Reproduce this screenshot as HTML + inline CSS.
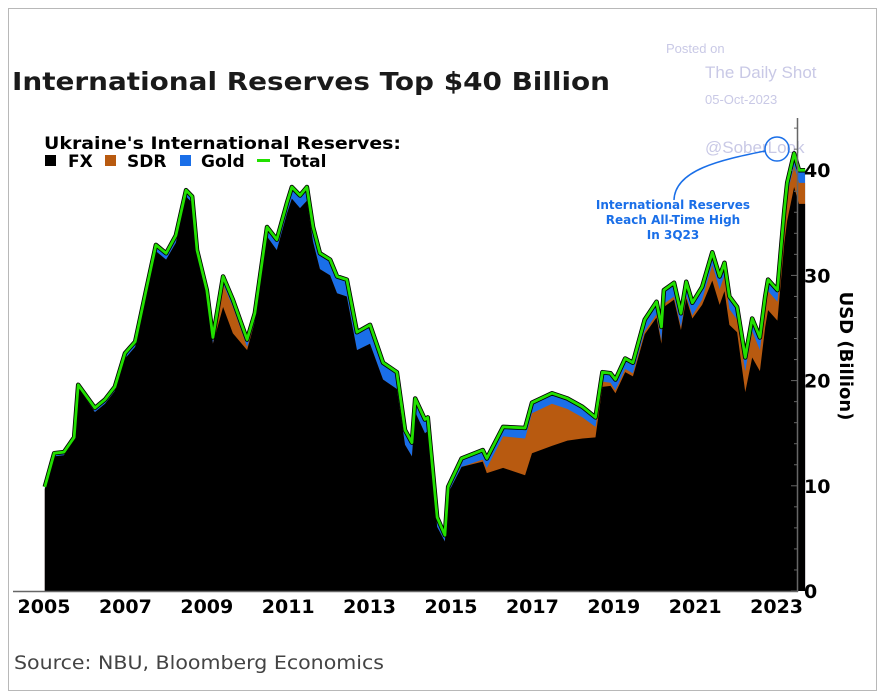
<!DOCTYPE html>
<html><head><meta charset="utf-8"><style>
html,body{margin:0;padding:0;background:#fff;}
svg{display:block;}
text{font-family:"DejaVu Sans","Liberation Sans",sans-serif;}
</style></head><body>
<svg id="chart" width="884" height="696" viewBox="0 0 884 696" xmlns="http://www.w3.org/2000/svg">
<rect x="8.5" y="8.5" width="868" height="682" fill="#fff" stroke="#b8b8b8" stroke-width="1"/>
<text x="12" y="90" font-size="25" font-weight="bold" fill="#1a1a1a" textLength="598" lengthAdjust="spacingAndGlyphs">International Reserves Top $40 Billion</text>
<text x="44" y="149" font-size="17" font-weight="bold" fill="#000" textLength="357" lengthAdjust="spacingAndGlyphs">Ukraine's International Reserves:</text>
<g>
<rect x="45" y="155" width="11" height="11" fill="#000"/>
<text x="68" y="167" font-size="17" font-weight="bold">FX</text>
<rect x="105" y="155" width="11" height="11" fill="#b85a10"/>
<text x="127" y="167" font-size="17" font-weight="bold">SDR</text>
<rect x="180" y="155" width="11" height="11" fill="#1a6fe8"/>
<text x="201" y="167" font-size="17" font-weight="bold">Gold</text>
<rect x="257" y="159" width="13" height="3" fill="#22e000"/>
<text x="280" y="167" font-size="17" font-weight="bold">Total</text>
</g>
<g fill="#c9c9e6">
<text x="666" y="53" font-size="13" style="font-family:'Liberation Sans',sans-serif">Posted on</text>
<text x="705" y="78" font-size="17" style="font-family:'Liberation Sans',sans-serif">The Daily Shot</text>
<text x="705" y="104" font-size="13" style="font-family:'Liberation Sans',sans-serif">05-Oct-2023</text>
<text x="705" y="153" font-size="17" style="font-family:'Liberation Sans',sans-serif">@SoberLook</text>
</g>
<g id="plot"></g>
<g id="axes"></g>
<g>
<circle cx="777" cy="149" r="12" fill="none" stroke="#1a6fe8" stroke-width="1.5"/>
<path d="M674,200 C675,170 720,160 765,151" fill="none" stroke="#1a6fe8" stroke-width="1.5"/>
<g font-size="12" font-weight="bold" fill="#1a6fe8" text-anchor="middle">
<text x="673" y="209">International Reserves</text>
<text x="673" y="224">Reach All-Time High</text>
<text x="673" y="239">In 3Q23</text>
</g>
</g>
<text x="14" y="669" font-size="19" fill="#444" textLength="370" lengthAdjust="spacingAndGlyphs">Source: NBU, Bloomberg Economics</text>
</svg>
<script>
const dates=[2005.02,2005.25,2005.49,2005.74,2005.84,2006.25,2006.50,2006.74,2006.99,2007.24,2007.51,2007.75,2008.00,2008.24,2008.49,2008.64,2008.76,2009.00,2009.15,2009.40,2009.64,2009.99,2010.18,2010.48,2010.72,2010.97,2011.09,2011.29,2011.46,2011.61,2011.78,2012.03,2012.20,2012.44,2012.69,2013.01,2013.33,2013.67,2013.87,2014.04,2014.12,2014.36,2014.43,2014.66,2014.85,2014.93,2015.26,2015.78,2015.88,2016.28,2016.82,2016.99,2017.48,2017.86,2018.23,2018.55,2018.72,2018.92,2019.04,2019.28,2019.47,2019.76,2020.05,2020.17,2020.23,2020.48,2020.65,2020.78,2020.93,2021.17,2021.42,2021.60,2021.72,2021.84,2022.03,2022.23,2022.40,2022.59,2022.72,2022.79,2023.02,2023.19,2023.26,2023.43,2023.55,2023.70];
const total=[9.9,13.1,13.2,14.6,19.6,17.4,18.2,19.4,22.6,23.7,28.6,32.9,32.1,33.8,38.1,37.5,32.4,28.6,24.1,29.9,27.7,23.9,26.4,34.6,33.4,36.9,38.4,37.6,38.4,34.6,32.1,31.5,29.9,29.6,24.6,25.3,21.7,20.8,15.3,14.1,18.3,16.3,16.5,7.0,5.3,9.9,12.6,13.4,12.6,15.6,15.5,17.9,18.8,18.3,17.5,16.5,20.8,20.7,20.1,22.1,21.7,25.8,27.5,25.1,28.6,29.3,26.4,29.4,27.4,28.9,32.2,29.9,31.2,28.0,27.0,22.2,25.9,24.1,28.0,29.6,28.6,36.2,38.8,41.6,40.0,40.0];
const gold=[0.2,0.3,0.3,0.3,0.3,0.4,0.4,0.4,0.5,0.5,0.5,0.6,0.6,0.7,0.6,0.6,0.6,0.6,0.6,0.7,0.7,0.7,0.8,0.9,1.0,1.0,1.1,1.2,1.3,1.4,1.5,1.5,1.6,1.6,1.7,1.8,1.6,1.6,1.4,1.3,1.3,1.3,1.3,0.9,0.6,0.6,0.8,0.9,0.9,0.9,1.0,1.0,1.0,1.0,1.0,0.9,0.9,0.9,1.0,1.0,1.0,1.1,1.2,1.3,1.3,1.3,1.3,1.3,1.2,1.2,1.2,1.2,1.2,1.2,1.2,1.3,1.2,1.2,1.1,1.1,1.1,1.1,1.1,1.2,1.2,1.2];
const sdr=[0,0,0,0,0,0,0,0,0,0,0,0,0,0,0,0,0,0,0,2.2,2.5,0.3,0,0,0,0,0,0,0,0,0,0,0,0,0,0,0,0,0,0,0,0,0,0,0,0,0,0.2,0.5,3.0,3.5,3.8,4.0,3.0,2.0,1.0,0.5,0.3,0.3,0.3,0.3,0.3,0.3,0.3,0.3,0.3,0.3,0.3,0.3,0.5,1.5,1.5,1.5,1.5,1.2,2.0,2.5,2.0,1.8,1.8,1.8,2.0,2.5,2.0,2.0,2.0];
const yTicks=[0,10,20,30,40];
const xYears=[2005,2007,2009,2011,2013,2015,2017,2019,2021,2023];

const NS='http://www.w3.org/2000/svg';
const X0=44,X1=2005,PXY=40.7,Y0=591,PXV=10.52;
function xs(t){return X0+(t-X1)*PXY;}
function ys(v){return Y0-v*PXV;}
function mk(tag,attrs,parent){const e=document.createElementNS(NS,tag);for(const k in attrs)e.setAttribute(k,attrs[k]);parent.appendChild(e);return e;}
const plot=document.getElementById('plot'),axes=document.getElementById('axes');
function area(vals){
  let d='M'+xs(dates[0])+','+ys(0);
  for(let i=0;i<dates.length;i++){d+=' L'+xs(dates[i])+','+ys(vals[i]);}
  d+=' L'+xs(dates[dates.length-1])+','+ys(0)+' Z';return d;
}
const goldTop=total.slice();
const sdrTop=total.map((v,i)=>v-gold[i]);
const fxTop=total.map((v,i)=>v-gold[i]-sdr[i]);
const a1=mk('path',{d:area(goldTop),fill:'#1a6fe8'},plot);


const a2=mk('path',{d:area(sdrTop),fill:'#b85a10'},plot);


const a3=mk('path',{d:area(fxTop),fill:'#000'},plot);


let ld='';
for(let i=0;i<dates.length;i++){ld+=(i?' L':'M')+xs(dates[i])+','+ys(total[i]);}
const tl=mk('path',{d:ld,fill:'none',stroke:'#000',"stroke-width":4.5,"stroke-linejoin":'round'},plot);


const ln=mk('path',{d:ld,fill:'none',stroke:'#22e000',"stroke-width":2.8,"stroke-linejoin":'round'},plot);


const bl=mk('line',{x1:13,y1:Y0+0.5,x2:798,y2:Y0+0.5,stroke:'#666',"stroke-width":1.5},axes);


const ra=mk('line',{x1:797.5,y1:118,x2:797.5,y2:Y0+1,stroke:'#666',"stroke-width":1.5},axes);


for(let v=0;v<=44;v+=2){
  const t=mk('line',{x1:797,x2:v%10===0?791:794,y1:ys(v),y2:ys(v),stroke:'#666',"stroke-width":1},axes);
  
  
}
yTicks.forEach(v=>{
  const t=mk('text',{x:804,y:ys(v)+7,"font-size":19,"font-weight":'bold',fill:'#000'},axes);
  t.textContent=String(v);
  
  
});
xYears.forEach(yr=>{
  const t=mk('text',{x:xs(yr),y:613,"font-size":19,"font-weight":'bold',fill:'#000',"text-anchor":'middle'},axes);
  t.textContent=String(yr);
  
  
});
const yt=mk('text',{x:0,y:0,"font-size":18,"font-weight":'bold',fill:'#000',"text-anchor":'middle',transform:'translate(840,356) rotate(90)'},axes);
yt.textContent='USD (Billion)';


</script>
</body></html>
